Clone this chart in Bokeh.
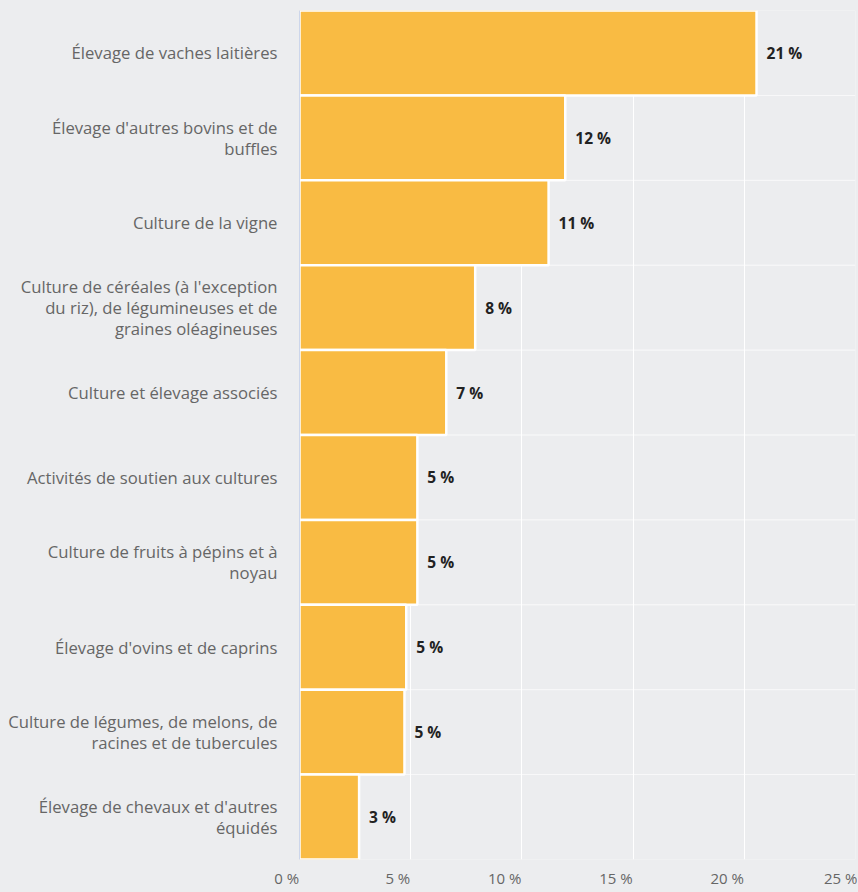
from bokeh.plotting import figure
from bokeh.models import FixedTicker, ColumnDataSource, CustomJSTickFormatter
from bokeh.core.properties import value
from bokeh.embed import file_html
from bokeh.resources import INLINE

categories = [
    "Élevage de vaches laitières",
    "Élevage d'autres bovins et de\nbuffles",
    "Culture de la vigne",
    "Culture de céréales (à l'exception\ndu riz), de légumineuses et de\ngraines oléagineuses",
    "Culture et élevage associés",
    "Activités de soutien aux cultures",
    "Culture de fruits à pépins et à\nnoyau",
    "Élevage d'ovins et de caprins",
    "Culture de légumes, de melons, de\nracines et de tubercules",
    "Élevage de chevaux et d'autres\néquidés",
]
values = [20.55, 11.95, 11.2, 7.9, 6.6, 5.3, 5.3, 4.8, 4.72, 2.68]
labels = ["21 %", "12 %", "11 %", "8 %", "7 %", "5 %", "5 %", "5 %", "5 %", "3 %"]
x_ticks = [0, 5, 10, 15, 20, 25]

BG = "#ecedef"
BAR = "#f9bb43"
FONT = "Open Sans"

src = ColumnDataSource(dict(cat=categories, val=values, lab=labels,
                            full=[x_ticks[-1]] * len(categories)))

p = figure(width=857, height=891, y_range=list(reversed(categories)),
           x_range=(0, x_ticks[-1]), output_backend="svg", toolbar_location=None,
           min_border_left=299, min_border_right=2, min_border_top=10,
           min_border_bottom=32)
p.background_fill_color = BG
p.border_fill_color = BG
p.outline_line_color = None

# faint band separators
p.hbar(y="cat", left=0, right="full", height=1, source=src,
       fill_alpha=0, line_color="white", line_alpha=0.45, line_width=1)

p.hbar(y="cat", left=0, right="val", height=1, source=src,
       fill_color=BAR, line_color="white", line_width=2.5)

p.text(x="val", y="cat", text="lab", source=src, x_offset=10,
       text_baseline="middle", text_align="left",
       text_font=value(FONT), text_font_style="bold",
       text_font_size="15.5px", text_color="#222222")

p.xgrid.ticker = FixedTicker(ticks=x_ticks)
p.xgrid.grid_line_color = "white"
p.xgrid.grid_line_width = 1
p.ygrid.grid_line_color = None

p.xaxis.ticker = FixedTicker(ticks=x_ticks)
# labels sit to the left of their tick (right-aligned): pad with figure spaces
p.xaxis.formatter = CustomJSTickFormatter(code="""
const s = tick + ' %';
if (index == ticks.length - 1) { return s; }
return s + '\\u2007'.repeat(String(tick).length + 2);
""")
p.xaxis.axis_line_color = None
p.xaxis.major_tick_line_color = None
p.xaxis.minor_tick_line_color = None
p.xaxis.major_tick_out = 0
p.xaxis.major_tick_in = 0
p.xaxis.major_label_standoff = 8
p.xaxis.major_label_text_font = FONT
p.xaxis.major_label_text_font_size = "15px"
p.xaxis.major_label_text_color = "#666666"

p.yaxis.axis_line_color = "#ccd6eb"
p.yaxis.major_tick_line_color = None
p.yaxis.minor_tick_line_color = None
p.yaxis.major_tick_out = 0
p.yaxis.major_tick_in = 0
p.yaxis.major_label_standoff = 22
p.yaxis.major_label_text_font = FONT
p.yaxis.major_label_text_font_size = "16.7px"
p.yaxis.major_label_text_color = "#666666"
p.yaxis.major_label_text_line_height = 0.91

html = file_html(p, INLINE)
html = html.replace("<body>", '<body style="background-color:%s;">' % BG)
open("out.html", "w").write(html)
